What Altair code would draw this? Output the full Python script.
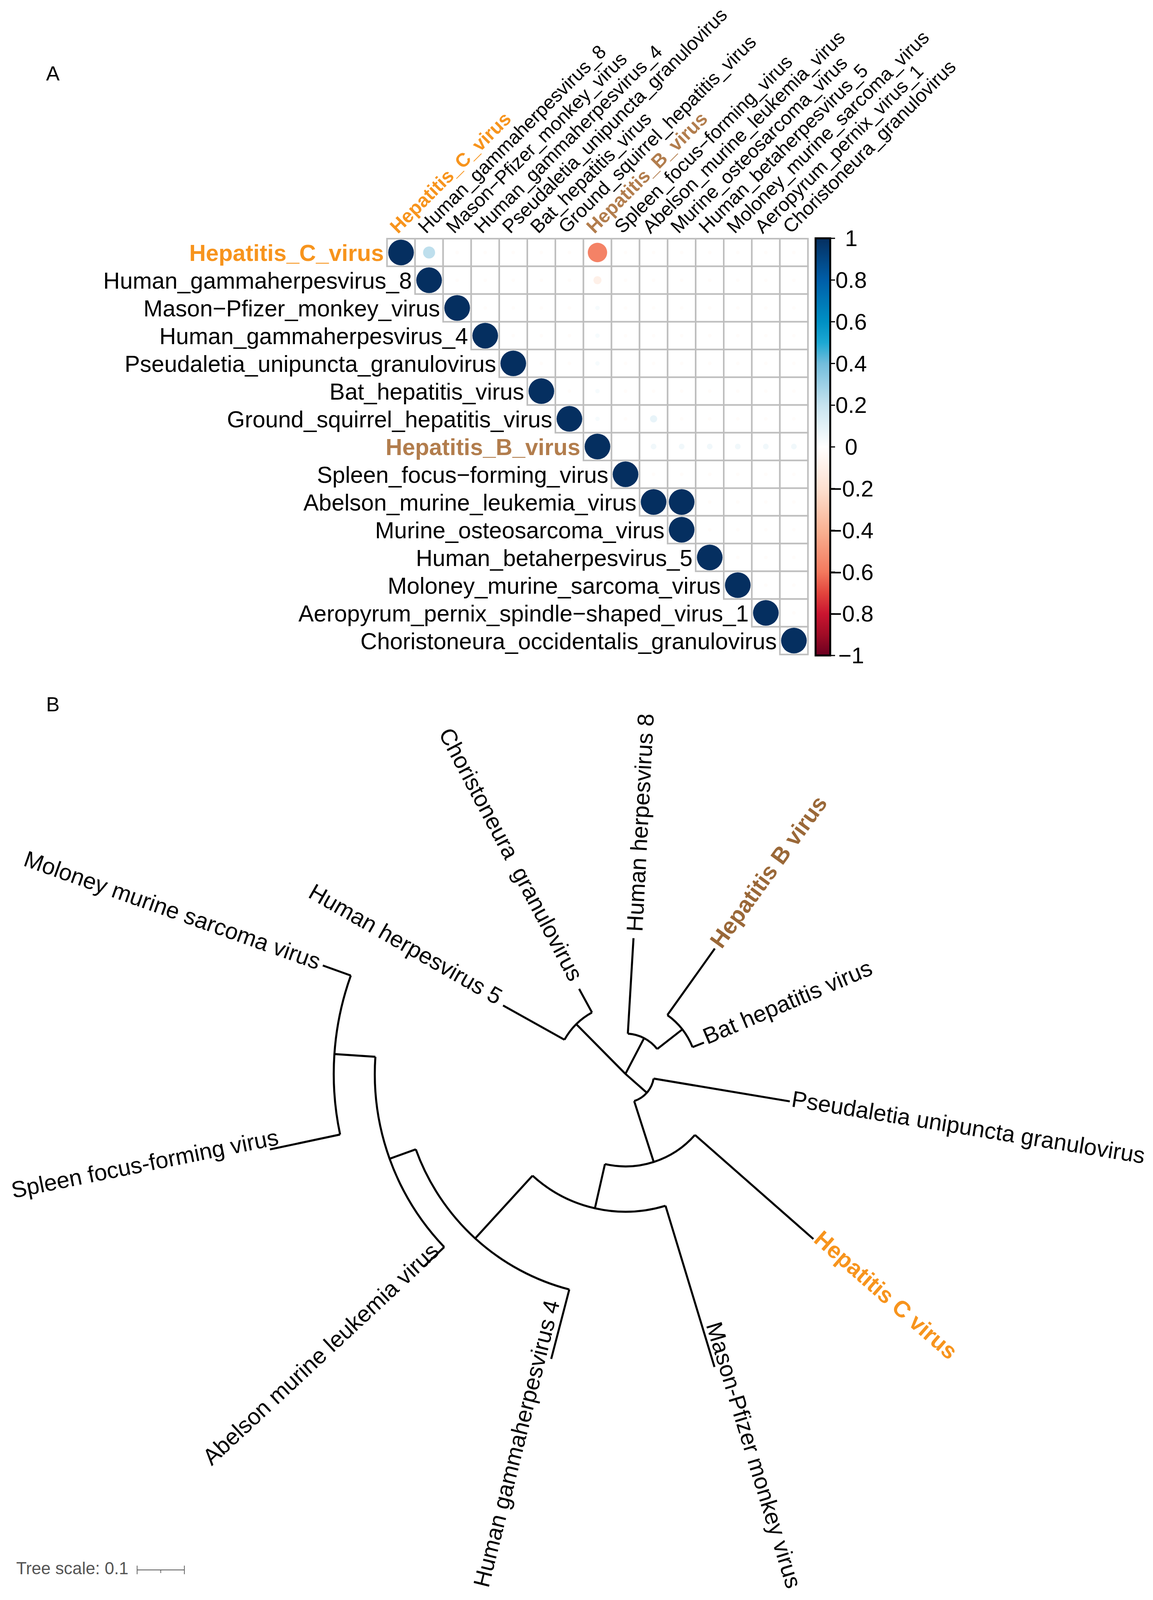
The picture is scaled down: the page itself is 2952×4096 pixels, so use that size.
import math
import altair as alt
import pandas as pd

FONT = "Liberation Sans"

# ---------------- Panel A: correlation matrix data ----------------
row_names = [
    "Hepatitis_C_virus", "Human_gammaherpesvirus_8", "Mason−Pfizer_monkey_virus",
    "Human_gammaherpesvirus_4", "Pseudaletia_unipuncta_granulovirus", "Bat_hepatitis_virus",
    "Ground_squirrel_hepatitis_virus", "Hepatitis_B_virus", "Spleen_focus−forming_virus",
    "Abelson_murine_leukemia_virus", "Murine_osteosarcoma_virus", "Human_betaherpesvirus_5",
    "Moloney_murine_sarcoma_virus", "Aeropyrum_pernix_spindle−shaped_virus_1",
    "Choristoneura_occidentalis_granulovirus",
]
col_names = [
    "Hepatitis_C_virus", "Human_gammaherpesvirus_8", "Mason−Pfizer_monkey_virus",
    "Human_gammaherpesvirus_4", "Pseudaletia_unipuncta_granulovirus", "Bat_hepatitis_virus",
    "Ground_squirrel_hepatitis_virus", "Hepatitis_B_virus", "Spleen_focus−forming_virus",
    "Abelson_murine_leukemia_virus", "Murine_osteosarcoma_virus", "Human_betaherpesvirus_5",
    "Moloney_murine_sarcoma_virus", "Aeropyrum_pernix_virus_1", "Choristoneura_granulovirus",
]
highlight_A = {"Hepatitis_C_virus": "#F7941D", "Hepatitis_B_virus": "#B27D4D"}

# upper triangle, row i lists columns i..14
corr_rows = [
    [1, 0.22, -0.02, -0.02, -0.02, -0.02, -0.02, -0.57, -0.02, -0.02, -0.02, -0.02, -0.02, -0.02, -0.02],
    [1, -0.02, -0.02, -0.02, -0.02, -0.02, -0.10, -0.02, -0.02, -0.02, -0.02, -0.02, -0.02, -0.02],
    [1, -0.02, -0.02, -0.02, -0.02, 0.03, -0.02, -0.02, -0.02, -0.02, -0.02, -0.02, -0.02],
    [1, -0.02, -0.02, -0.02, 0.03, -0.02, -0.02, -0.02, -0.02, -0.02, -0.02, -0.02],
    [1, -0.02, -0.02, 0.03, -0.02, -0.02, -0.02, -0.02, -0.02, -0.02, -0.02],
    [1, -0.02, 0.03, -0.02, -0.02, -0.02, -0.02, -0.02, -0.02, -0.02],
    [1, 0.03, -0.02, 0.08, -0.02, -0.02, -0.02, -0.02, -0.02],
    [1, 0.0, 0.05, 0.05, 0.05, 0.05, 0.05, 0.05],
    [1, -0.02, -0.02, -0.02, -0.02, -0.02, -0.02],
    [1, 1.0, -0.02, -0.02, -0.02, -0.02],
    [1, -0.02, -0.02, -0.02, -0.02],
    [1, -0.02, -0.02, -0.02],
    [1, -0.02, -0.02],
    [1, -0.02],
    [1],
]

cb_ticks = [1, 0.8, 0.6, 0.4, 0.2, 0, -0.2, -0.4, -0.6, -0.8, -1]
cb_labels = ["1", "0.8", "0.6", "0.4", "0.2", "0", "−0.2", "−0.4", "−0.6", "−0.8", "−1"]
cb_stop_values = [-1, -0.9, -0.8, -0.7, -0.6, -0.4, -0.2, 0, 0.2, 0.4, 0.5, 0.6, 0.8, 1]
cb_stop_colors = ["#6B0020", "#A00C26", "#CA1530", "#E2453D", "#F3795E", "#F9B293", "#FDE0D0",
                  "#FFFFFF", "#C6E3EF", "#72BDDB", "#1CA8D3", "#0090C4", "#005EA8", "#052F60"]

# ---------------- Panel B: tree data ----------------
tree_nodes = ["root", "nG", "HHV5", "Chor", "nA", "HHV8", "nAB", "HepB", "Bat", "nH", "Pseud",
              "nB", "HCV", "nC", "MP", "nD", "HG4", "nE", "Abelson", "nF", "Spleen", "Moloney"]
tree_parent = [None, "root", "nG", "nG", "root", "nA", "nA", "nAB", "nAB", "root", "nH",
               "nH", "nB", "nB", "nC", "nC", "nD", "nD", "nE", "nE", "nF", "nF"]
tree_theta = [0, 315.3, 299.2, 331.4, 27.6, 3.4, 52.0, 35.5, 68.3, 131.4, 99.5,
              162.2, 131.3, 192.8, 163.1, 222.4, 194.6, 250.2, 226.3, 273.9, 258.0, 289.7]
tree_dist = [0, 0.148, 0.297, 0.205, 0.0854, 0.288, 0.153, 0.326, 0.179, 0.0605, 0.353,
             0.196, 0.530, 0.292, 0.649, 0.472, 0.624, 0.531, 0.589, 0.618, 0.770, 0.681]

leaf_labels = ["Human herpesvirus 8", "Hepatitis B virus", "Bat hepatitis virus",
               "Pseudaletia unipuncta granulovirus", "Hepatitis C virus", "Mason-Pfizer monkey virus",
               "Human gammaherpesvirus 4", "Abelson murine leukemia virus", "Spleen focus-forming virus",
               "Moloney murine sarcoma virus", "Human herpesvirus 5", "Choristoneura\u00a0 granulovirus"]
label_theta = [4.0, 35.2, 65.7, 98.75, 130.2, 160.7, 197.7, 227.5, 259.6, 289.9, 300.8, 332.35]
label_dist = [0.302, 0.3325, 0.1835, 0.3565, 0.532, 0.5588, 0.5045, 0.5456, 0.748, 0.6894, 0.3096, 0.2255]
label_angle = [273, 306, 337, 9.2, 41.2, 73, 284, 317, 348.6, 19.5, 29.8, 62.2]
label_side = ["R", "R", "R", "R", "R", "R", "L", "L", "L", "L", "L", "L"]
highlight_B = {"Hepatitis B virus": "#9A6838", "Hepatitis C virus": "#F7941D"}

tree_scale_value = 0.1

# ---------------- layout (pixels) ----------------
W, H = 2936, 4080
GX0, CW = 982.8, 71.85
GY0, CH = 602.9, 70.97
NC = 15
# Vega symbol size = (diameter)^2 ; full-size circle diameter = 0.92 cell
SIZE1 = (0.92 * 71.4) ** 2
CX, CY = 1593.3, 2741.1
R_PX = 1208.5

xs = alt.Scale(domain=[0, NC], range=[GX0, GX0 + NC * CW], nice=False, zero=False)
ys = alt.Scale(domain=[0, NC], range=[GY0, GY0 + NC * CH], nice=False, zero=False)

cells = []
for i, vals in enumerate(corr_rows):
    for k, v in enumerate(vals):
        j = i + k
        cells.append(dict(x0=j, x1=j + 1, y0=i, y1=i + 1, xc=j + 0.5, yc=i + 0.5, v=v, a=abs(v)))
cells = pd.DataFrame(cells)

grid = alt.Chart(cells).mark_rect(fill="white", stroke="#BEBEBE", strokeWidth=4).encode(
    x=alt.X("x0:Q", scale=xs, axis=None), x2="x1:Q",
    y=alt.Y("y0:Q", scale=ys, axis=None), y2="y1:Q")

circles = alt.Chart(cells).mark_circle(opacity=1).encode(
    x=alt.X("xc:Q", scale=xs, axis=None),
    y=alt.Y("yc:Q", scale=ys, axis=None),
    size=alt.Size("a:Q", scale=alt.Scale(domain=[0, 1], range=[0, SIZE1]), legend=None),
    color=alt.Color("v:Q", scale=alt.Scale(domain=cb_stop_values, range=cb_stop_colors,
                                           interpolate="rgb"), legend=None))

rl = pd.DataFrame({"name": row_names, "x": list(range(NC)), "y": [i + 0.5 for i in range(NC)]})
rl["hl"] = rl["name"].map(highlight_A)
row_norm = alt.Chart(rl[rl["hl"].isna()]).mark_text(
    align="right", baseline="middle", dx=-8, dy=4, fontSize=59, font=FONT, color="black").encode(
    x=alt.X("x:Q", scale=xs, axis=None), y=alt.Y("y:Q", scale=ys, axis=None), text="name:N")
row_hl = alt.Chart(rl[rl["hl"].notna()]).mark_text(
    align="right", baseline="middle", dx=-8, dy=4, fontSize=59, font=FONT, fontWeight="bold").encode(
    x=alt.X("x:Q", scale=xs, axis=None), y=alt.Y("y:Q", scale=ys, axis=None), text="name:N",
    color=alt.Color("hl:N", scale=None))

cl = pd.DataFrame({"name": col_names, "x": [j + 0.39 for j in range(NC)]})
cl["hl"] = cl["name"].map(highlight_A)
col_norm = alt.Chart(cl[cl["hl"].isna()]).mark_text(
    align="left", baseline="alphabetic", angle=315, fontSize=49, font=FONT, color="black").encode(
    x=alt.X("x:Q", scale=xs, axis=None), y=alt.value(GY0 - 11), text="name:N")
col_hl = alt.Chart(cl[cl["hl"].notna()]).mark_text(
    align="left", baseline="alphabetic", angle=315, fontSize=49, font=FONT, fontWeight="bold").encode(
    x=alt.X("x:Q", scale=xs, axis=None), y=alt.value(GY0 - 11), text="name:N",
    color=alt.Color("hl:N", scale=None))

# colour bar
cbs = alt.Scale(domain=[-1, 1], range=[1670.1, 602.1], nice=False, zero=False)
grad = alt.LinearGradient(
    gradient="linear",
    stops=[alt.GradientStop(color=c, offset=(v + 1) / 2) for v, c in zip(cb_stop_values, cb_stop_colors)],
    x1=0, x2=0, y1=1, y2=0)
cbar = alt.Chart(pd.DataFrame({"lo": [-1], "hi": [1]})).mark_rect(
    fill=grad, stroke="black", strokeWidth=5).encode(
    x=alt.value(2080.1), x2=alt.value(2117.6),
    y=alt.Y("lo:Q", scale=cbs, axis=None), y2="hi:Q")
cbdf = pd.DataFrame({"v": cb_ticks, "t": cb_labels})
cticks = alt.Chart(cbdf).mark_rule(color="black", strokeWidth=3).encode(
    x=alt.value(2119), x2=alt.value(2130), y=alt.Y("v:Q", scale=cbs, axis=None))
clabels = alt.Chart(cbdf).mark_text(
    align="center", baseline="middle", dy=3, fontSize=58, font=FONT, color="black").encode(
    x=alt.value(2171.3), y=alt.Y("v:Q", scale=cbs, axis=None), text="t:N")

# ---------------- tree segments ----------------
th = dict(zip(tree_nodes, tree_theta))
ds = dict(zip(tree_nodes, tree_dist))
segs = []
for n, p in zip(tree_nodes, tree_parent):
    if p is not None:
        segs.append(dict(t1=th[n], t2=th[n], r1=ds[n], r2=ds[p]))
for n in tree_nodes:
    kids = [c for c, p in zip(tree_nodes, tree_parent) if p == n]
    if kids and ds[n] > 0:
        kt = [th[c] for c in kids]
        segs.append(dict(t1=min(kt), t2=max(kt), r1=ds[n], r2=ds[n]))
segs = pd.DataFrame(segs)

tscale = alt.Scale(domain=[0, 360], range=[0, 2 * math.pi], nice=False, zero=False)
rscale = alt.Scale(type="linear", domain=[0, 1], range=[0, R_PX], nice=False, zero=False)

tree = alt.Chart(segs).mark_arc(filled=False, stroke="black", strokeWidth=5.2).encode(
    theta=alt.Theta("t1:Q", scale=tscale, stack=False), theta2="t2:Q",
    radius=alt.Radius("r1:Q", scale=rscale), radius2="r2:Q",
    x=alt.value(CX), y=alt.value(CY))

lab = pd.DataFrame({"label": leaf_labels, "lt": label_theta, "lr": label_dist,
                    "ang": label_angle, "side": label_side})
lab["hl"] = lab["label"].map(highlight_B)


def tree_text(df, align, bold):
    kw = dict(align=align, baseline="middle", fontSize=58.8, font=FONT)
    enc = dict(theta=alt.Theta("lt:Q", scale=tscale, stack=False),
               radius=alt.Radius("lr:Q", scale=rscale),
               angle=alt.Angle("ang:Q", scale=None), text="label:N",
               x=alt.value(CX), y=alt.value(CY))
    if bold:
        kw["fontWeight"] = "bold"
        enc["color"] = alt.Color("hl:N", scale=None)
    else:
        kw["color"] = "black"
    return alt.Chart(df).mark_text(**kw).encode(**enc)


t_right = tree_text(lab[(lab["side"] == "R") & lab["hl"].isna()], "left", False)
t_right_hl = tree_text(lab[(lab["side"] == "R") & lab["hl"].notna()], "left", True)
t_left = tree_text(lab[(lab["side"] == "L") & lab["hl"].isna()], "right", False)

# tree scale legend
SB_X0, SB_Y = 343.1, 4011
SB_X1 = SB_X0 + tree_scale_value * R_PX
one = pd.DataFrame({"k": [0]})
sb_text = alt.Chart(one).mark_text(
    text="Tree scale: 0.1", align="left", baseline="middle", fontSize=43.7, font=FONT,
    color="#555555").encode(x=alt.value(33.4), y=alt.value(4009))
sb_bar = alt.Chart(one).mark_rule(color="#555555", strokeWidth=1.8).encode(
    x=alt.value(SB_X0), x2=alt.value(SB_X1), y=alt.value(SB_Y))
sb_t1 = alt.Chart(one).mark_rule(color="#555555", strokeWidth=1.8).encode(
    x=alt.value(SB_X0), y=alt.value(SB_Y - 11), y2=alt.value(SB_Y + 11))
sb_t2 = alt.Chart(one).mark_rule(color="#555555", strokeWidth=1.8).encode(
    x=alt.value(SB_X1), y=alt.value(SB_Y - 11), y2=alt.value(SB_Y + 11))
sb_t3 = alt.Chart(one).mark_rule(color="#555555", strokeWidth=1.8).encode(
    x=alt.value((SB_X0 + SB_X1) / 2), y=alt.value(SB_Y), y2=alt.value(SB_Y + 8))

lab_A = alt.Chart(one).mark_text(text="A", align="left", baseline="alphabetic", fontSize=52,
                                 font=FONT, color="black").encode(x=alt.value(110), y=alt.value(198))
lab_B = alt.Chart(one).mark_text(text="B", align="left", baseline="alphabetic", fontSize=52,
                                 font=FONT, color="black").encode(x=alt.value(110), y=alt.value(1813))

chart = alt.layer(
    grid, circles, row_norm, row_hl, col_norm, col_hl, cbar, cticks, clabels,
    tree, t_right, t_right_hl, t_left,
    sb_text, sb_bar, sb_t1, sb_t2, sb_t3, lab_A, lab_B,
).resolve_scale(
    x="independent", y="independent", color="independent", size="independent"
).properties(
    width=W, height=H, padding=0, background="white",
    autosize=alt.AutoSizeParams(type="none"),
).configure_view(strokeWidth=0)

chart.save("out.html", embed_options={"renderer": "svg", "actions": False})
